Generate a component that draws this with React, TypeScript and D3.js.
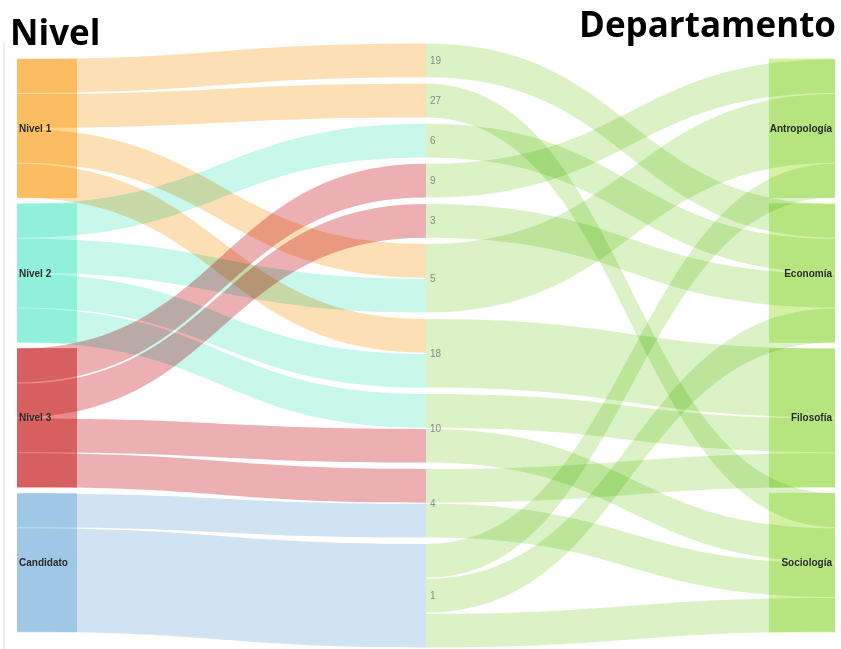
import React, { useRef, useEffect } from "react";
import * as d3 from "d3";

const niveles = ["Nivel 1", "Nivel 2", "Nivel 3", "Candidato"];
const cursos = ["19", "27", "6", "9", "3", "5", "18", "10", "4", "1"];
const departamentos = ["Antropología", "Economía", "Filosofía", "Sociología"];

// nivel -> curso (alumnos)
const nivelCurso: [string, string, number][] = [
  ["Nivel 1", "19", 1],
  ["Nivel 1", "27", 1],
  ["Nivel 1", "5", 1],
  ["Nivel 1", "18", 1],
  ["Nivel 2", "6", 1],
  ["Nivel 2", "5", 1],
  ["Nivel 2", "18", 1],
  ["Nivel 2", "10", 1],
  ["Nivel 3", "9", 1],
  ["Nivel 3", "3", 1],
  ["Nivel 3", "10", 1],
  ["Nivel 3", "4", 1],
  ["Candidato", "4", 1],
  ["Candidato", "1", 3],
];

// curso -> departamento
const cursoDepto: [string, string, number][] = [
  ["19", "Economía", 1],
  ["27", "Sociología", 1],
  ["6", "Economía", 1],
  ["9", "Antropología", 1],
  ["3", "Economía", 1],
  ["5", "Antropología", 2],
  ["18", "Filosofía", 2],
  ["10", "Filosofía", 1],
  ["10", "Sociología", 1],
  ["4", "Filosofía", 1],
  ["4", "Sociología", 1],
  ["1", "Antropología", 1],
  ["1", "Economía", 1],
  ["1", "Sociología", 1],
];

const nivelLinkColors = ["#fcdfb4", "#c8f7ec", "#ecb0b2", "#cfe3f2"];
const nivelNodeColors = ["#ffd88b", "#b8f8ec", "#ea8a89", "#c4e0f3"];
const deptoLinkColor = "#dbf2c6";
const deptoNodeColor = "#d4f2a4";

function App() {
  const svgRef = useRef<SVGSVGElement>(null);

  useEffect(() => {
    const svg = d3.select(svgRef.current);
    svg.selectAll("*").remove();

    const width = 841;
    const height = 649;
    const top = 43;
    const bottom = 648;
    const pad = 5.2;
    const colX = [17, 426, 835];
    const nodeW = 66;

    const columns = [niveles, cursos, departamentos];
    const nodes = new Map<string, any>();
    columns.forEach((names, c) =>
      names.forEach((name, i) =>
        nodes.set(name, { name, col: c, index: i, ins: [], outs: [] })
      )
    );

    const links = [...nivelCurso, ...cursoDepto].map(([s, t, v]) => {
      const l = { source: nodes.get(s), target: nodes.get(t), value: v } as any;
      l.source.outs.push(l);
      l.target.ins.push(l);
      return l;
    });

    nodes.forEach((n) => {
      n.value = Math.max(d3.sum(n.ins, (l: any) => l.value), d3.sum(n.outs, (l: any) => l.value));
    });

    const ky = d3.min(columns, (names) =>
      (bottom - top - (names.length - 1) * pad) / d3.sum(names, (n) => nodes.get(n).value)
    ) as number;
    const k = d3.scaleLinear().domain([0, 1]).range([0, ky]);

    columns.forEach((names) => {
      const total = k(d3.sum(names, (n) => nodes.get(n).value)) + (names.length - 1) * pad;
      let y = top + (bottom - top - total) / 2;
      names.forEach((name) => {
        const n = nodes.get(name);
        n.y0 = y;
        n.y1 = y + k(n.value);
        y = n.y1 + pad;
      });
    });

    nodes.forEach((n) => {
      n.outs.sort((a: any, b: any) => a.target.y0 - b.target.y0);
      n.ins.sort((a: any, b: any) => a.source.y0 - b.source.y0);
      let y = n.y0;
      n.outs.forEach((l: any) => { l.sy = y; y += k(l.value); });
      y = n.y0;
      n.ins.forEach((l: any) => { l.ty = y; y += k(l.value); });
    });

    const inset = 0.6;
    const band = (l: any) => {
      const x0 = colX[l.source.col];
      const x1 = colX[l.target.col];
      const xm = (x0 + x1) / 2;
      const w = k(l.value);
      const a0 = l.sy + inset, a1 = l.ty + inset;
      const b0 = l.sy + w - inset, b1 = l.ty + w - inset;
      const p = d3.path();
      p.moveTo(x0, a0);
      p.bezierCurveTo(xm, a0, xm, a1, x1, a1);
      p.lineTo(x1, b1);
      p.bezierCurveTo(xm, b1, xm, b0, x0, b0);
      p.closePath();
      return p.toString();
    };

    svg.attr("width", width).attr("height", height);

    // marco
    svg.append("rect")
      .attr("x", 3).attr("y", 42).attr("width", 2).attr("height", height - 42)
      .attr("fill", "#ededed");

    // nodos
    const leftNodes = niveles.map((n) => nodes.get(n));
    svg.append("g").selectAll("rect")
      .data(leftNodes)
      .enter()
      .append("rect")
      .attr("x", colX[0])
      .attr("y", (d: any) => d.y0)
      .attr("width", nodeW - 6)
      .attr("height", (d: any) => d.y1 - d.y0)
      .attr("fill", (d: any, i) => nivelNodeColors[i]);

    const rightNodes = departamentos.map((n) => nodes.get(n));
    svg.append("g").selectAll("rect")
      .data(rightNodes)
      .enter()
      .append("rect")
      .attr("x", colX[2] - nodeW)
      .attr("y", (d: any) => d.y0)
      .attr("width", nodeW)
      .attr("height", (d: any) => d.y1 - d.y0)
      .attr("fill", deptoNodeColor);

    // enlaces
    svg.append("g").selectAll("path")
      .data(links)
      .enter()
      .append("path")
      .attr("d", band)
      .attr("fill", (d: any) =>
        d.source.col === 0 ? nivelLinkColors[d.source.index] : deptoLinkColor
      )
      .style("mix-blend-mode", "multiply");

    // etiquetas
    const font = "'Liberation Sans', Arial, sans-serif";
    svg.append("g").selectAll("text")
      .data(leftNodes)
      .enter()
      .append("text")
      .attr("x", colX[0] + 2)
      .attr("y", (d: any) => (d.y0 + d.y1) / 2)
      .attr("dy", "0.35em")
      .style("font-family", font)
      .style("font-size", "10px")
      .style("font-weight", "bold")
      .attr("fill", "#2a2a2a")
      .text((d: any) => d.name);

    svg.append("g").selectAll("text")
      .data(cursos.map((n) => nodes.get(n)))
      .enter()
      .append("text")
      .attr("x", colX[1] + 4)
      .attr("y", (d: any) => (d.y0 + d.y1) / 2)
      .attr("dy", "0.35em")
      .style("font-family", font)
      .style("font-size", "10px")
      .attr("fill", "#8a8a8a")
      .text((d: any) => d.name);

    svg.append("g").selectAll("text")
      .data(rightNodes)
      .enter()
      .append("text")
      .attr("x", colX[2] - 3)
      .attr("y", (d: any) => (d.y0 + d.y1) / 2)
      .attr("dy", "0.35em")
      .attr("text-anchor", "end")
      .style("font-family", font)
      .style("font-size", "10px")
      .style("font-weight", "bold")
      .attr("fill", "#2a2a2a")
      .text((d: any) => d.name);

    // títulos
    svg.append("text")
      .attr("x", 10)
      .attr("y", 45)
      .style("font-family", "'Open Sans', sans-serif")
      .style("font-size", "35px")
      .style("font-weight", "bold")
      .attr("fill", "#000")
      .text("Nivel");

    svg.append("text")
      .attr("x", 836)
      .attr("y", 37)
      .attr("text-anchor", "end")
      .style("font-family", "'Open Sans', sans-serif")
      .style("font-size", "35px")
      .style("font-weight", "bold")
      .attr("fill", "#000")
      .text("Departamento");
  }, []);

  return (
    <svg
      ref={svgRef}
      style={{ position: "absolute", left: 0, top: 0, display: "block", background: "#fff" }}
    ></svg>
  );
}

export default App;
